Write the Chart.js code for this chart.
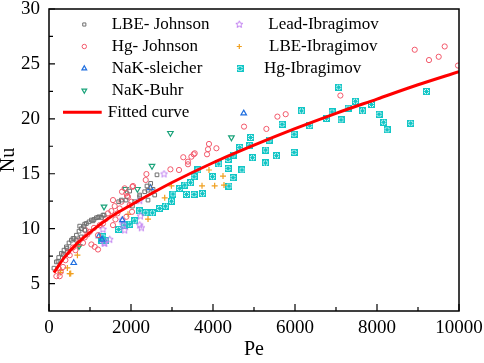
<!DOCTYPE html>
<html><head><meta charset="utf-8">
<script src="https://cdn.jsdelivr.net/npm/chart.js@4/dist/chart.umd.min.js"></script>
<style>html,body{margin:0;padding:0;background:#fff}</style>
</head><body>
<canvas id="c" width="484" height="363"></canvas>
<script>
// ---- tick values ----
const xTickLabels = [0, 2000, 4000, 6000, 8000, 10000];
const xMinorTicks = [1000, 3000, 5000, 7000, 9000];
const yTickLabels = [5, 10, 15, 20, 25, 30];
const yMinorTicks = [7.5, 12.5, 17.5, 22.5, 27.5];

// ---- series names ----
const seriesNames = ['LBE- Johnson', 'Hg- Johnson', 'NaK-sleicher', 'NaK-Buhr',
  'Lead-Ibragimov', 'LBE-Ibragimov', 'Hg-Ibragimov', 'Fitted curve'];

// ---- series values [Pe, Nu] ----
const lbeJohnson = [[120,6.4],[180,6.97],[220,7.03],[237,7.37],[302,7.74],[342,7.65],[366,8.04],[424,8.34],[439,8.19],[488,8.7],[546,8.95],[585,9.1],[610,9.1],[668,9.4],[668,8.95],[732,9.77],[749,10.23],[790,10.0],[790,9.25],[854,10.23],[871,9.86],[871,10.41],[912,10.47],[976,10.62],[1034,10.78],[1073,10.71],[1098,10.84],[1156,10.99],[1195,11.02],[1220,11.08],[1278,11.02],[1317,11.23],[1342,11.23],[1700,12.45],[1766,12.6],[1878,12.6],[1968,13.42],[2034,12.05],[2090,12.45],[2212,13.06],[2212,12.9],[2334,13.36],[2390,13.88],[2415,12.6],[2415,13.5],[2480,14.12],[2537,13.58],[2578,13.06],[2634,14.9]];
const hgJohnson = [[180,5.67],[261,5.67],[285,6.06],[237,6.37],[341,6.51],[400,7.13],[366,7.58],[463,7.88],[505,7.58],[585,8.28],[644,8.04],[707,8.59],[749,8.95],[829,8.7],[871,9.2],[936,9.47],[895,9.86],[993,9.71],[1034,8.56],[1115,8.34],[1195,8.1],[1098,10.07],[1237,10.32],[1317,10.47],[1383,10.87],[1439,11.39],[1522,11.6],[1561,12.6],[1602,12.05],[1668,11.39],[1724,11.84],[1766,12.45],[1781,13.36],[1846,13.67],[1888,13.21],[1927,12.9],[2034,13.8],[1968,12.14],[2025,11.53],[1888,11.08],[1620,10.84],[1561,10.32],[1195,9.4],[2049,13.88],[2376,14.97],[2359,14.43],[2961,15.4],[3171,15.34],[3275,16.5],[3390,16.1],[3390,15.86],[3473,16.55],[3529,16.77],[3554,16.86],[3854,16.77],[3878,17.23],[3902,17.71],[4083,17.32],[4757,19.29],[5302,19.08],[5571,20.2],[5773,20.42],[7107,22.12],[8920,26.29],[9268,25.35],[9505,25.65],[9651,26.59],[9976,24.85],[1903,12.97],[2010,12.45]];
const nakSleicher = [[603,6.88],[1220,9.32],[1293,9.0],[1790,10.78],[2476,13.7],[4749,20.5]];
const nakBuhr = [[732,8.4],[1342,12.0],[1863,13.6],[2156,13.6],[2512,15.7],[2961,18.7],[4449,18.3]];
const leadIbragimov = [[1317,9.93],[1342,8.7],[1359,8.65],[1481,9.0],[1781,10.78],[1805,10.32],[1846,9.86],[2212,10.32],[2212,12.54],[2229,11.14],[2253,10.07],[2805,14.97]];
const lbeIbragimov = [[278,6.0],[285,6.2],[448,6.42],[505,5.9],[529,5.91],[693,7.58],[725,8.4],[1927,11.3],[2415,10.87],[2822,12.81],[2985,13.9],[3732,13.9],[3902,15.34],[4041,13.9],[4244,14.79],[4268,13.97]];
const hgIbragimov = [[1278,8.95],[1317,9.25],[1383,8.89],[1700,9.93],[1846,10.32],[1968,10.41],[2090,10.71],[2212,11.62],[2359,11.44],[2522,11.44],[2700,11.84],[2839,12.05],[2985,12.5],[3024,13.15],[3188,13.67],[3310,13.97],[3351,13.12],[3449,14.18],[3537,14.73],[3537,13.12],[3634,15.34],[3741,13.18],[3985,14.73],[4139,15.89],[4366,15.49],[4366,16.3],[4390,13.88],[4488,16.7],[4488,14.64],[4651,17.4],[4707,15.34],[4895,17.55],[4919,18.3],[4961,16.46],[5278,15.98],[5285,17.16],[5366,18.07],[5546,16.64],[5683,19.5],[5976,18.6],[5976,16.95],[6156,20.72],[6359,19.38],[6766,20.05],[6903,20.63],[7066,22.88],[7122,19.9],[7293,20.97],[7473,21.6],[7644,20.72],[7863,21.3],[8049,20.42],[8163,19.69],[8244,19.0],[8822,19.6],[9205,22.48]];
const fittedCurve = [[120,6.0],[380,7.4],[700,8.7],[1100,9.95],[1500,11.05],[2000,12.15],[2500,13.2],[3000,14.2],[4000,16.0],[5000,17.6],[6000,19.1],[7000,20.5],[8000,21.8],[9000,23.1],[10000,24.3]];

const toXY = arr => arr.map(p => ({x: p[0], y: p[1]}));

// five-point star marker for Lead-Ibragimov
function starCanvas(color, size) {
  const c = document.createElement('canvas');
  c.width = size; c.height = size;
  const g = c.getContext('2d');
  const cx = size / 2, cy = size / 2, R = size / 2 - 0.8, r = R * 0.45;
  g.beginPath();
  for (let i = 0; i < 10; i++) {
    const a = -Math.PI / 2 + i * Math.PI / 5;
    const rr = i % 2 ? r : R;
    const px = cx + rr * Math.cos(a), py = cy + rr * Math.sin(a);
    i ? g.lineTo(px, py) : g.moveTo(px, py);
  }
  g.closePath();
  g.strokeStyle = color; g.lineWidth = 1; g.stroke();
  return c;
}
// boxed asterisk marker for Hg-Ibragimov
function boxStarCanvas(color, size) {
  const c = document.createElement('canvas');
  c.width = size; c.height = size;
  const g = c.getContext('2d');
  g.strokeStyle = color; g.lineWidth = 1;
  g.strokeRect(0.5, 0.5, size - 1, size - 1);
  g.beginPath();
  g.moveTo(1, 1); g.lineTo(size - 1, size - 1);
  g.moveTo(size - 1, 1); g.lineTo(1, size - 1);
  g.moveTo(size / 2, 1); g.lineTo(size / 2, size - 1);
  g.moveTo(1, size / 2); g.lineTo(size - 1, size / 2);
  g.stroke();
  return c;
}

const FONT = '"Liberation Serif", "Times New Roman", serif';
Chart.defaults.font.family = FONT;
Chart.defaults.color = '#000';

const mk = (label, data, color, style, radius, bw) => ({
  label, data: toXY(data), borderColor: color, backgroundColor: 'rgba(0,0,0,0)',
  pointStyle: style, pointRadius: radius, pointBorderWidth: bw, borderWidth: bw,
  pointHoverRadius: radius, showLine: false, order: 1
});

const datasets = [
  {label: seriesNames[7], data: toXY(fittedCurve), showLine: true, borderColor: '#ff0000',
   borderWidth: 3, pointRadius: 0, cubicInterpolationMode: 'monotone', order: 0, fill: false},
  mk(seriesNames[0], lbeJohnson, '#707070', 'rect', 2.6, 1),
  mk(seriesNames[1], hgJohnson, '#f2586a', 'circle', 2.6, 1),
  mk(seriesNames[2], nakSleicher, '#1f6fe0', 'triangle', 3.2, 1.2),
  mk(seriesNames[3], nakBuhr, '#1aa37a', 'triangle', 3.2, 1.2),
  mk(seriesNames[4], leadIbragimov, '#c07ef0', starCanvas('#c07ef0', 9), 3, 1),
  mk(seriesNames[5], lbeIbragimov, '#f0a020', 'cross', 3, 1.2),
  mk(seriesNames[6], hgIbragimov, '#12c6c6', boxStarCanvas('#12c6c6', 7), 3, 1),
];
datasets[4].rotation = 180; // NaK-Buhr: downward triangle
datasets[4].pointRotation = 180;

const legendItems = [
  {name: seriesNames[0], mx: 84.3, tx: 111.7, y: 24.5},
  {name: seriesNames[1], mx: 84.3, tx: 111.7, y: 46.5},
  {name: seriesNames[2], mx: 84.3, tx: 111.7, y: 68.5},
  {name: seriesNames[3], mx: 84.3, tx: 111.7, y: 90.5},
  {name: seriesNames[7], mx: 82.5, tx: 107.7, y: 112.3, line: [63, 101.7]},
  {name: seriesNames[4], mx: 239.3, tx: 268.3, y: 24.5},
  {name: seriesNames[5], mx: 239.3, tx: 269, y: 46.5},
  {name: seriesNames[6], mx: 240, tx: 264, y: 68.5},
];

const framePlugin = {
  id: 'frameTicks',
  afterDatasetsDraw(chart) {
    const {ctx, chartArea: a, scales: {x, y}} = chart;
    ctx.save();
    ctx.strokeStyle = '#000';
    ctx.lineWidth = 1.5;
    ctx.strokeRect(a.left, a.top, a.right - a.left, a.bottom - a.top);
    ctx.lineWidth = 1.2;
    ctx.beginPath();
    const xt = (v, len) => { const p = x.getPixelForValue(v); ctx.moveTo(p, a.bottom); ctx.lineTo(p, a.bottom - len); };
    const yt = (v, len) => { const p = y.getPixelForValue(v); ctx.moveTo(a.left, p); ctx.lineTo(a.left + len, p); };
    xTickLabels.forEach(v => xt(v, 7));
    xMinorTicks.forEach(v => xt(v, 4));
    yTickLabels.forEach(v => yt(v, 6));
    yMinorTicks.forEach(v => yt(v, 4));
    ctx.stroke();
    ctx.restore();
  },
  afterDraw(chart) {
    const {ctx} = chart;
    ctx.save();
    ctx.font = '17px ' + FONT;
    ctx.textBaseline = 'middle';
    ctx.textAlign = 'left';
    ctx.fillStyle = '#000';
    legendItems.forEach(it => {
      const ds = chart.data.datasets.find(d => d.label === it.name);
      if (it.line) {
        ctx.strokeStyle = ds.borderColor; ctx.lineWidth = 3;
        ctx.beginPath(); ctx.moveTo(it.line[0], it.y); ctx.lineTo(it.line[1], it.y); ctx.stroke();
      } else if (Chart.helpers && Chart.helpers.drawPoint) {
        ctx.strokeStyle = ds.borderColor; ctx.fillStyle = 'rgba(0,0,0,0)';
        ctx.lineWidth = ds.pointBorderWidth;
        Chart.helpers.drawPoint(ctx, {pointStyle: ds.pointStyle, radius: ds.pointRadius * 0.85,
          borderWidth: ds.pointBorderWidth, rotation: ds.pointRotation || 0}, it.mx, it.y);
      }
      ctx.fillStyle = '#000';
      ctx.fillText(it.name, it.tx, it.y);
    });
    ctx.restore();
  }
};

function fixPad(s) { s.paddingTop = 0; s.paddingBottom = 0; s.paddingLeft = 0; s.paddingRight = 0; }

new Chart(document.getElementById('c'), {
  type: 'scatter',
  data: {datasets},
  options: {
    responsive: false, animation: false,
    layout: {padding: {top: 9, right: 25, bottom: 0, left: 0}},
    plugins: {legend: {display: false}, tooltip: {enabled: false}},
    scales: {
      x: {
        type: 'linear', min: 0, max: 10000,
        afterBuildTicks: s => { s.ticks = xTickLabels.map(v => ({value: v})); },
        afterFit: s => { s.height = 52; fixPad(s); },
        grid: {display: false, drawTicks: false},
        border: {display: false},
        ticks: {font: {size: 19}, padding: 6, maxRotation: 0, autoSkip: false, callback: v => String(v)},
        title: {display: true, text: 'Pe', font: {size: 20}, padding: {top: 0, bottom: 1}}
      },
      y: {
        type: 'linear', min: 2.5, max: 30,
        afterBuildTicks: s => { s.ticks = yTickLabels.map(v => ({value: v})); },
        afterFit: s => { s.width = 49; fixPad(s); },
        grid: {display: false, drawTicks: false},
        border: {display: false},
        ticks: {font: {size: 19}, padding: 9, autoSkip: false, callback: v => String(v)},
        title: {display: true, text: 'Nu', font: {size: 20, lineHeight: 0.85}, padding: {top: 0, bottom: 0}}
      }
    }
  },
  plugins: [framePlugin]
});
</script>
</body></html>
